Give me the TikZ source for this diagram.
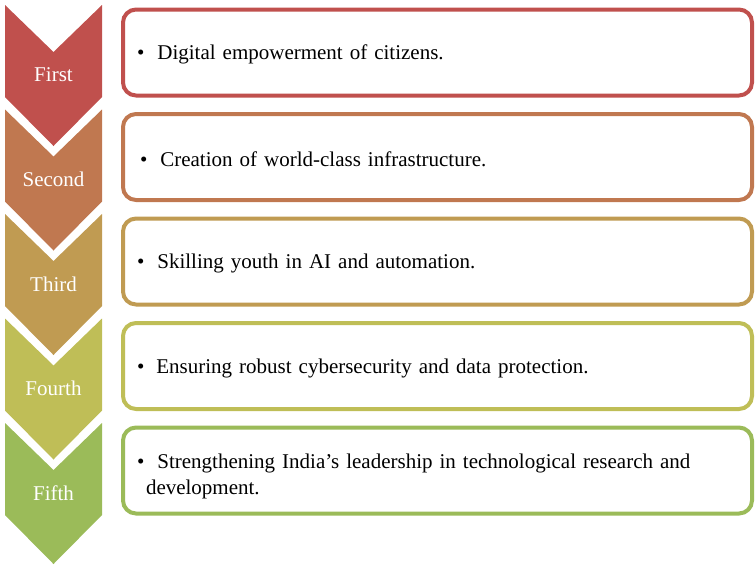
\documentclass[tikz,border=0pt]{standalone}
\usepackage{fontspec}
\setmainfont{Liberation Serif}
\usepackage{tikz}

\definecolor{lvlone}{RGB}{192,80,77}
\definecolor{lvltwo}{RGB}{192,120,80}
\definecolor{lvlthree}{RGB}{192,155,82}
\definecolor{lvlfour}{RGB}{191,190,87}
\definecolor{lvlfive}{RGB}{155,187,89}

\begin{document}
\begin{tikzpicture}[x=1pt,y=-1pt,
		level node/.style={text=white,font=\fontsize{21}{25}\selectfont},
		point box/.style={draw,fill=white,line width=4pt,rounded corners=13pt,minimum width=629pt,minimum height=86pt,
			inner xsep=14pt,text width=601pt,align=left,font=\fontsize{21}{26}\selectfont}]

		\useasboundingbox (0,0) rectangle (755,566);

		% chevrons down the left
		\foreach \y/\c/\t [count=\i] in {5/lvlone/First,109.5/lvltwo/Second,214/lvlthree/Third,318.5/lvlfour/Fourth,423/lvlfive/Fifth}{
			\fill[\c] (5,\y) -- (53.5,\y+47) -- (102,\y) -- (102,\y+92) -- (53.5,\y+141) -- (5,\y+92) -- cycle;
			\node[level node] (s\i) at (53.5,\y+70) {\t};
		}

		% boxes
		\node[point box,draw=lvlone] (b1) at (437.5,52.5) {\rule{0pt}{19pt}\textbullet\hspace{13pt}Digital empowerment of citizens.};
		\node[point box,draw=lvltwo] (b2) at (437.5,157) {\rule{0pt}{19pt}\hspace{3pt}\textbullet\hspace{13pt}Creation of world-class infrastructure.};
		\node[point box,draw=lvlthree] (b3) at (437.5,261.5) {\rule{0pt}{19pt}\textbullet\hspace{13pt}Skilling youth in AI and automation.};
		\node[point box,draw=lvlfour] (b4) at (437.5,366) {\rule{0pt}{19pt}\textbullet\hspace{12pt}Ensuring robust cybersecurity and data protection.};
		\node[point box,draw=lvlfive] (b5) at (437.5,470.5) {\rule{0pt}{26pt}\textbullet\hspace{13pt}Strengthening India’s leadership in technological research and\\\hspace{9pt}development.};
	\end{tikzpicture}
\end{document}
